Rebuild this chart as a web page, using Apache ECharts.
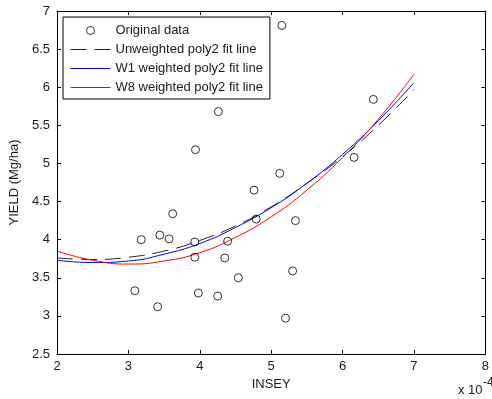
<!DOCTYPE html>
<html>
<head>
<meta charset="utf-8">
<script src="https://cdn.jsdelivr.net/npm/echarts@6/dist/echarts.min.js"></script>
<style>
  html, body { margin: 0; padding: 0; background: #fff; }
  #chart { width: 492px; height: 399px; }
</style>
</head>
<body>
<div id="chart"></div>
<script>
// ---- data (INSEY in units of 1e-4) ----
const obsInsey = [4.26, 3.94, 5.15, 6.43, 6.16, 5.12, 4.76, 3.09, 3.18, 3.44, 3.57, 3.62,
                  3.93, 3.93, 3.41, 3.98, 4.25, 4.35, 4.39, 4.54, 4.79, 5.34, 5.30, 5.20];
const obsYield = [5.68, 5.18, 6.81, 5.84, 5.08, 4.87, 4.65, 3.33, 4.00, 4.06, 4.01, 4.34,
                  3.97, 3.77, 3.12, 3.30, 3.26, 3.76, 3.98, 3.50, 4.27, 4.25, 3.59, 2.97];

const fitInsey      = [2.0, 2.5, 3.0, 3.5, 4.0, 4.5, 5.0, 5.5, 6.0, 6.5, 7.0];
const fitUnweighted = [3.76, 3.74, 3.77, 3.85, 3.99, 4.18, 4.43, 4.74, 5.09, 5.50, 5.97];
const fitW1         = [3.73, 3.70, 3.72, 3.81, 3.95, 4.16, 4.42, 4.74, 5.12, 5.56, 6.06];
const fitW8         = [3.85, 3.73, 3.68, 3.72, 3.83, 4.03, 4.30, 4.65, 5.08, 5.58, 6.17];

const seriesNames = ['Original data', 'Unweighted poly2 fit line', 'W1 weighted poly2 fit line', 'W8 weighted poly2 fit line'];
const xAxisTitle = 'INSEY';
const yAxisTitle = 'YIELD (Mg/ha)';
const xRange = [2, 8], xStep = 1;
const yRange = [2.5, 7], yStep = 0.5;

const pairs = (xs, ys) => xs.map((x, i) => [x, ys[i]]);

const FONT = 'Liberation Sans, Arial, Helvetica, sans-serif';
const TXT = '#1a1a1a';

const axisCommon = {
  axisLine: { show: true, onZero: false, lineStyle: { color: '#000', width: 1 } },
  axisTick: { show: true, inside: true, length: 4, lineStyle: { color: '#000', width: 1 } },
  splitLine: { show: false },
  axisLabel: { fontFamily: FONT, fontSize: 13, color: TXT }
};

const chart = echarts.init(document.getElementById('chart'), null, { renderer: 'canvas' });

chart.setOption({
  animation: false,
  backgroundColor: '#fff',
  grid: { left: 57, right: 1, top: 11, bottom: 45 },
  xAxis: [
    Object.assign({}, axisCommon, {
      type: 'value', position: 'bottom', min: xRange[0], max: xRange[1], interval: xStep,
      name: xAxisTitle, nameLocation: 'middle', nameGap: 22,
      nameTextStyle: { fontFamily: FONT, fontSize: 13, color: TXT },
      axisLabel: Object.assign({}, axisCommon.axisLabel, { margin: 6, showMaxLabel: true, alignMaxLabel: 'center' })
    }),
    Object.assign({}, axisCommon, {
      type: 'value', position: 'top', min: xRange[0], max: xRange[1], interval: xStep,
      axisLabel: { show: false }
    })
  ],
  yAxis: [
    Object.assign({}, axisCommon, {
      type: 'value', position: 'left', min: yRange[0], max: yRange[1], interval: yStep,
      name: yAxisTitle, nameLocation: 'middle', nameGap: 27,
      nameTextStyle: { fontFamily: FONT, fontSize: 13, color: TXT },
      axisLabel: Object.assign({}, axisCommon.axisLabel, { margin: 7 })
    }),
    Object.assign({}, axisCommon, {
      type: 'value', position: 'right', min: yRange[0], max: yRange[1], interval: yStep,
      axisLabel: { show: false }
    })
  ],
  legend: {
    orient: 'vertical',
    left: 63, top: 17,
    padding: [7, 7, 5, 7],
    itemWidth: 40,
    itemHeight: 8,
    itemGap: 6,
    backgroundColor: '#fff',
    borderColor: '#000',
    borderWidth: 1,
    borderRadius: 0,
    lineStyle: { width: 1 },
    textStyle: { fontFamily: FONT, fontSize: 13, color: TXT },
    data: [
      { name: seriesNames[0], icon: 'circle', itemStyle: { color: 'rgba(0,0,0,0)', borderColor: '#000', borderWidth: 1 } },
      { name: seriesNames[1], itemStyle: { opacity: 0 } },
      { name: seriesNames[2], itemStyle: { opacity: 0 } },
      { name: seriesNames[3], itemStyle: { opacity: 0 } }
    ]
  },
  series: [
    {
      name: seriesNames[0], type: 'scatter',
      data: pairs(obsInsey, obsYield),
      symbol: 'circle', symbolSize: 8,
      itemStyle: { color: 'rgba(0,0,0,0)', borderColor: '#000', borderWidth: 1 },
      z: 3
    },
    {
      name: seriesNames[1], type: 'line', smooth: true,
      data: pairs(fitInsey, fitUnweighted),
      symbol: 'none', showSymbol: false,
      itemStyle: { color: '#222' },
      lineStyle: { color: '#222', width: 1, type: [16, 8] }
    },
    {
      name: seriesNames[2], type: 'line', smooth: true,
      data: pairs(fitInsey, fitW1),
      symbol: 'none', showSymbol: false,
      itemStyle: { color: '#0000ff' },
      lineStyle: { color: '#0000ff', width: 1 }
    },
    {
      name: seriesNames[3], type: 'line', smooth: true,
      data: pairs(fitInsey, fitW8),
      symbol: 'none', showSymbol: false,
      itemStyle: { color: '#ff0000' },
      lineStyle: { color: '#ff0000', width: 1 }
    }
  ],
  graphic: [
    { type: 'text', left: 458, top: 384, style: { text: 'x 10', fontFamily: FONT, fontSize: 13, fill: TXT } },
    { type: 'text', left: 483, top: 377, style: { text: '-4', fontFamily: FONT, fontSize: 12, fill: TXT } }
  ]
});
</script>
</body>
</html>
